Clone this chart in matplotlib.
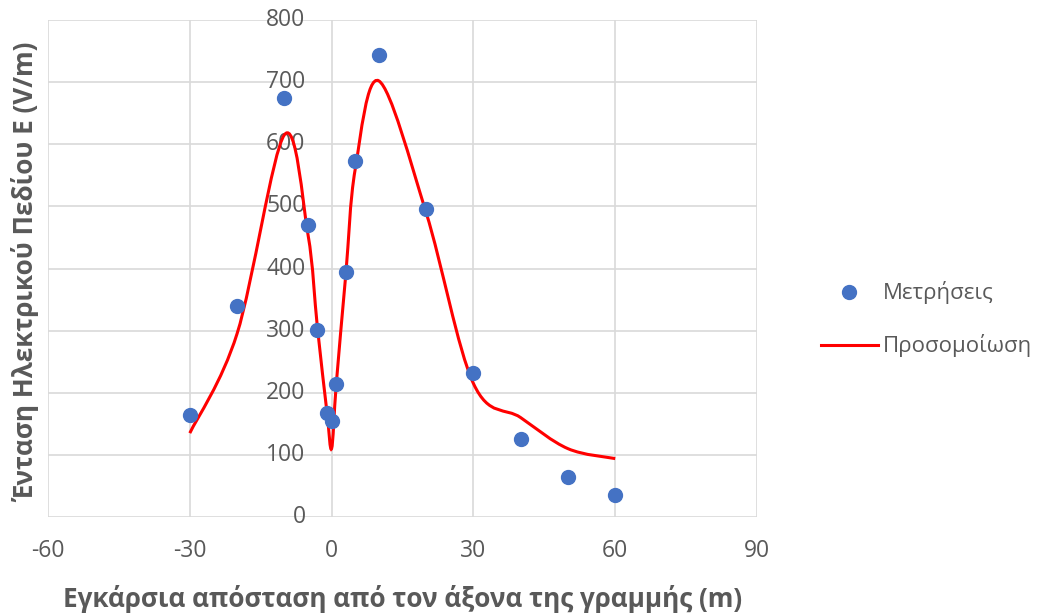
import matplotlib.pyplot as plt
from matplotlib.path import Path
from matplotlib.patches import PathPatch
from matplotlib.lines import Line2D
import numpy as np

plt.rcParams['font.family'] = ['Open Sans', 'DejaVu Sans']
plt.rcParams['axes.unicode_minus'] = False

# measurements (Μετρήσεις)
meas_x = [-30, -20, -10, -5, -3, -1, 0, 1, 3, 5, 10, 20, 30, 40, 50, 60]
meas_y = [164, 340, 675, 470, 301, 167, 155, 214, 394, 573, 744, 496, 232, 126, 64, 35]

# simulation (Προσομοίωση)
sim_x = [-30, -20, -10, -5, -3, -1, 0, 1, 3, 5, 10, 20, 30, 40, 50, 60]
sim_y = [135, 295, 615, 455, 305, 170, 110, 215, 390, 560, 702, 490, 215, 160, 110, 94]

xticks = [-60, -30, 0, 30, 60, 90]
yticks = [0, 100, 200, 300, 400, 500, 600, 700, 800]

grey = '#595959'
blue = '#4472C4'


def smooth_path(xs, ys):
    # excel-like smoothed line: cubic bezier segments (catmull-rom control points)
    pts = np.column_stack([xs, ys]).astype(float)
    n = len(pts)
    verts = [pts[0]]
    codes = [Path.MOVETO]
    for i in range(n - 1):
        p0 = pts[i - 1] if i > 0 else pts[i]
        p1 = pts[i]
        p2 = pts[i + 1]
        p3 = pts[i + 2] if i + 2 < n else pts[i + 1]
        c1 = p1 + (p2 - p0) / 6.0
        c2 = p2 - (p3 - p1) / 6.0
        verts += [c1, c2, p2]
        codes += [Path.CURVE4] * 3
    return Path(verts, codes)


fig = plt.figure(figsize=(10.52, 6.14), dpi=100)
ax = fig.add_axes([0.0456, 0.158, 0.674, 0.8094])

ax.add_patch(PathPatch(smooth_path(sim_x, sim_y), facecolor='none',
                       edgecolor='#FF0000', lw=2.2, zorder=3))
ax.plot(meas_x, meas_y, 'o', color=blue, ms=10, zorder=4)

ax.set_xlim(-60, 90)
ax.set_ylim(0, 800)
ax.set_xticks(xticks)
ax.set_yticks(yticks)
ax.grid(True, color='#d9d9d9', lw=1.2)
ax.set_axisbelow(True)
for s in ax.spines.values():
    s.set_visible(False)

ax.tick_params(length=0, labelsize=16.5, labelcolor=grey)
ax.tick_params(axis='x', pad=16)
ax.set_yticklabels([])
for t in yticks:
    ax.text(-5.5, t, str(t), ha='right', va='center', fontsize=16.5,
            color=grey, zorder=2)

ax.set_xlabel('Εγκάρσια απόσταση από τον άξονα της γραμμής (m)', fontsize=18.8,
              fontweight='bold', color=grey, labelpad=16)
fig.text(0.025, 0.557, 'Ένταση Ηλεκτρικού Πεδίου Ε (V/m)', rotation=90,
         ha='center', va='center', fontsize=18.8, fontweight='bold', color=grey)

handles = [Line2D([], [], ls='none', marker='o', color=blue, ms=10),
           Line2D([], [], color='#FF0000', lw=2.2)]
fig.legend(handles, ['Μετρήσεις', 'Προσομοίωση'], loc='center left',
           bbox_to_anchor=(0.761, 0.48), frameon=False, fontsize=16,
           labelcolor=grey, handlelength=2.6, handletextpad=0.2,
           labelspacing=1.35)

fig.savefig('out.png', dpi=100)
